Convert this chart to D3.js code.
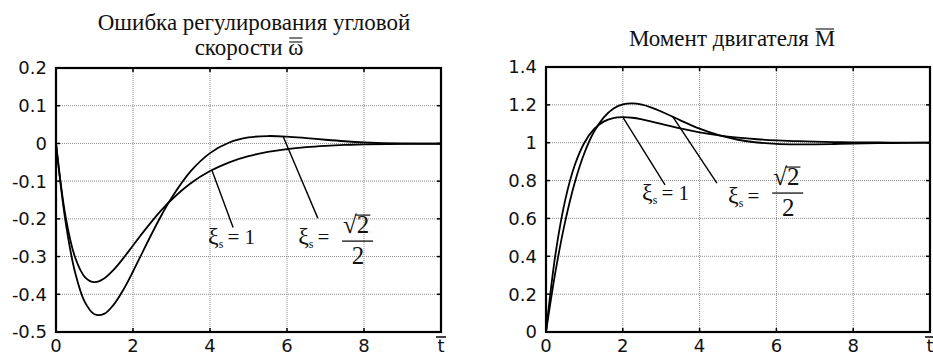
<!DOCTYPE html>
<html><head><meta charset="utf-8">
<script src="https://cdn.jsdelivr.net/npm/d3@7"></script>
<style>
html,body{margin:0;padding:0;background:#fff;}
svg{display:block;}
.tick-label{font-family:"DejaVu Sans",Verdana,sans-serif;font-size:18px;fill:#111;}
.title{font-family:"Liberation Serif","Times New Roman",serif;font-size:23px;fill:#111;}
.ann{font-family:"Liberation Serif","Times New Roman",serif;font-size:21px;fill:#111;}
.frac{font-family:"Liberation Serif","Times New Roman",serif;font-size:25px;fill:#111;}
</style></head>
<body>
<svg id="c" width="933" height="358"></svg>
<script>
// ---- data ----
const tValues = [0,0.25,0.5,0.75,1,1.25,1.5,1.75,2,2.25,2.5,2.75,3,3.5,4,4.5,5,5.5,6,6.5,7,7.5,8,9,10];
// speed error, xi_s = 1
const errXi1 = [0,-0.1947,-0.3033,-0.3543,-0.3679,-0.3581,-0.3347,-0.3041,-0.2707,-0.2372,-0.2052,-0.1757,-0.1494,-0.1057,-0.0733,-0.0500,-0.0337,-0.0225,-0.0149,-0.0098,-0.0064,-0.0041,-0.0027,-0.0011,-0.0005];
// speed error, xi_s = sqrt(2)/2
const errXi07 = [0,-0.2085,-0.3438,-0.4209,-0.4530,-0.4520,-0.4273,-0.3878,-0.3396,-0.2880,-0.2368,-0.1884,-0.1446,-0.0736,-0.0257,0.0024,0.0158,0.0196,0.0181,0.0142,0.0097,0.0058,0.0029,-0.0002,-0.0009];
// motor torque, xi_s = 1
const torqXi1 = [0,0.4159,0.6967,0.8819,1.0,1.0716,1.1116,1.1303,1.1353,1.1318,1.1232,1.1118,1.0996,1.0755,1.0549,1.0389,1.0270,1.0184,1.0124,1.0083,1.0055,1.0036,1.0023,1.0010,1.0004];
// motor torque, xi_s = sqrt(2)/2
const torqXi07 = [0,0.3225,0.5844,0.7900,0.9455,1.0576,1.1327,1.1795,1.2022,1.2078,1.2009,1.1855,1.1649,1.1183,1.0744,1.0398,1.0157,1.0012,0.9938,0.9912,0.9915,0.9931,0.9951,0.9984,1.0000];
const xTicks = [0,2,4,6,8];
const errTicks = [0.2,0.1,0,-0.1,-0.2,-0.3,-0.4,-0.5];
const torqTicks = [1.4,1.2,1,0.8,0.6,0.4,0.2,0];
const titleLeft1 = "Ошибка регулирования угловой";
const titleLeft2 = "скорости ";
const titleRight = "Момент двигателя ";

const svg = d3.select("#c");

function panel(opt){
  const x = d3.scaleLinear().domain([0,10]).range(opt.xr);
  const y = d3.scaleLinear().domain(opt.yd).range([332, opt.top]);
  const g = svg.append("g");
  g.selectAll(".gx").data(xTicks.filter(d=>d>0)).join("line")
    .attr("x1",d=>x(d)).attr("x2",d=>x(d)).attr("y1",y.range()[1]).attr("y2",y.range()[0])
    .attr("stroke","#8a8a8a").attr("stroke-width",1).attr("stroke-dasharray","1,1");
  g.selectAll(".gy").data(opt.yticks.filter(d=>d!==opt.yd[0] && d!==opt.yd[1])).join("line")
    .attr("x1",x(0)).attr("x2",x(10)).attr("y1",d=>y(d)).attr("y2",d=>y(d))
    .attr("stroke","#8a8a8a").attr("stroke-width",1).attr("stroke-dasharray","1,1");
  const tk = 4;
  g.selectAll(".tb").data(xTicks.filter(d=>d>0)).join("line")
    .attr("x1",d=>x(d)).attr("x2",d=>x(d)).attr("y1",y.range()[0]).attr("y2",y.range()[0]-tk)
    .attr("stroke","#000").attr("stroke-width",1.5);
  g.selectAll(".tt").data(xTicks.filter(d=>d>0)).join("line")
    .attr("x1",d=>x(d)).attr("x2",d=>x(d)).attr("y1",y.range()[1]).attr("y2",y.range()[1]+tk)
    .attr("stroke","#000").attr("stroke-width",1.5);
  g.selectAll(".tr").data(opt.yticks).join("line")
    .attr("x1",x(10)).attr("x2",x(10)-tk).attr("y1",d=>y(d)).attr("y2",d=>y(d))
    .attr("stroke","#000").attr("stroke-width",1.5);
  g.selectAll(".tl").data(opt.yticks).join("line")
    .attr("x1",x(0)).attr("x2",x(0)+tk).attr("y1",d=>y(d)).attr("y2",d=>y(d))
    .attr("stroke","#000").attr("stroke-width",1.5);
  g.append("rect").attr("x",x(0)).attr("y",y.range()[1]).attr("width",x(10)-x(0)).attr("height",y.range()[0]-y.range()[1])
    .attr("fill","none").attr("stroke","#000").attr("stroke-width",2.2);
  g.selectAll(".yl").data(opt.yticks).join("text").attr("class","tick-label")
    .attr("x",x(0)-9).attr("y",d=>y(d)).attr("dy","0.36em").attr("text-anchor","end")
    .text(d=>d3.format("")(d).replace("−","-"));
  g.selectAll(".xl").data(xTicks).join("text").attr("class","tick-label")
    .attr("x",d=>x(d)).attr("y",352).attr("text-anchor","middle").text(d=>d);
  g.append("text").attr("class","tick-label").attr("x",x(10)).attr("y",352).attr("text-anchor","middle").text("t");
  g.append("line").attr("x1",x(10)-5).attr("x2",x(10)+5).attr("y1",337).attr("y2",337).attr("stroke","#111").attr("stroke-width",1.6);
  const line = d3.line().x((d,i)=>x(tValues[i])).y(d=>y(d)).curve(d3.curveCatmullRom.alpha(0.5));
  opt.series.forEach(s=>{
    g.append("path").attr("d",line(s)).attr("fill","none").attr("stroke","#000").attr("stroke-width",1.8);
  });
  return {x,y,g};
}

function xiLabel(g, px, py, rhs){
  const t = g.append("text").attr("class","ann").attr("x",px).attr("y",py);
  t.append("tspan").attr("font-size","24px").text("ξ");
  t.append("tspan").attr("font-size","12px").attr("dy","4").text("s");
  t.append("tspan").attr("dy","-4").attr("dx","4").text(rhs ? "= " + rhs : "=");
  return t;
}
function frac(g, px, py){
  const num = g.append("text").attr("class","frac").attr("x",px+1).attr("y",py-8).text("√2");
  const a = num.node().getExtentOfChar(0), b = num.node().getExtentOfChar(1);
  const ytop = a.y + a.height*0.2;
  g.append("line").attr("x1",a.x+a.width-1.5).attr("x2",b.x+b.width+1).attr("y1",py-26).attr("y2",py-26)
    .attr("stroke","#111").attr("stroke-width",1.2);
  g.append("line").attr("x1",px).attr("x2",px+31).attr("y1",py).attr("y2",py).attr("stroke","#111").attr("stroke-width",1.3);
  g.append("text").attr("class","frac").attr("x",px+16).attr("y",py+23).attr("text-anchor","middle").text("2");
}
function overbar(textSel, idx, yOff){
  const b = textSel.node().getExtentOfChar(idx);
  yOff.forEach(o=>{
    svg.append("line").attr("x1",b.x+1).attr("x2",b.x+b.width-1)
      .attr("y1",b.y+o).attr("y2",b.y+o).attr("stroke","#111").attr("stroke-width",1.1);
  });
}

const L = panel({xr:[56,441], yd:[-0.5,0.2], top:68, yticks:errTicks, series:[errXi1, errXi07]});
const R = panel({xr:[546,930], yd:[0,1.4], top:67, yticks:torqTicks, series:[torqXi1, torqXi07]});

// titles
svg.append("text").attr("class","title").attr("x",254).attr("y",30).attr("text-anchor","middle").text(titleLeft1);
const t2 = svg.append("text").attr("class","title").attr("x",249).attr("y",55).attr("text-anchor","middle");
t2.append("tspan").text(titleLeft2);
t2.append("tspan").text("ω");
overbar(t2, titleLeft2.length, [3, 7]);
const t3 = svg.append("text").attr("class","title").attr("x",732).attr("y",46).attr("text-anchor","middle");
t3.append("tspan").text(titleRight);
t3.append("tspan").text("M");
overbar(t3, titleRight.length, [3]);

// left annotations
L.g.append("line").attr("x1",L.x(4.05)).attr("y1",L.y(-0.071)).attr("x2",L.x(4.6)).attr("y2",L.y(-0.223)).attr("stroke","#000").attr("stroke-width",1.4);
xiLabel(L.g, L.x(3.95), L.y(-0.267), "1");
L.g.append("line").attr("x1",L.x(5.9)).attr("y1",L.y(0.0185)).attr("x2",L.x(6.8)).attr("y2",L.y(-0.198)).attr("stroke","#000").attr("stroke-width",1.4);
xiLabel(L.g, L.x(6.29), L.y(-0.267), "");
frac(L.g, L.x(7.43), L.y(-0.259));

// right annotations
R.g.append("line").attr("x1",R.x(2.0)).attr("y1",R.y(1.1353)).attr("x2",R.x(3.1)).attr("y2",R.y(0.777)).attr("stroke","#000").attr("stroke-width",1.4);
xiLabel(R.g, R.x(2.5), R.y(0.697), "1");
R.g.append("line").attr("x1",R.x(3.3)).attr("y1",R.y(1.138)).attr("x2",R.x(4.45)).attr("y2",R.y(0.787)).attr("stroke","#000").attr("stroke-width",1.4);
xiLabel(R.g, R.x(4.74), R.y(0.68), "");
frac(R.g, R.x(5.89), R.y(0.734));
</script>
</body></html>
